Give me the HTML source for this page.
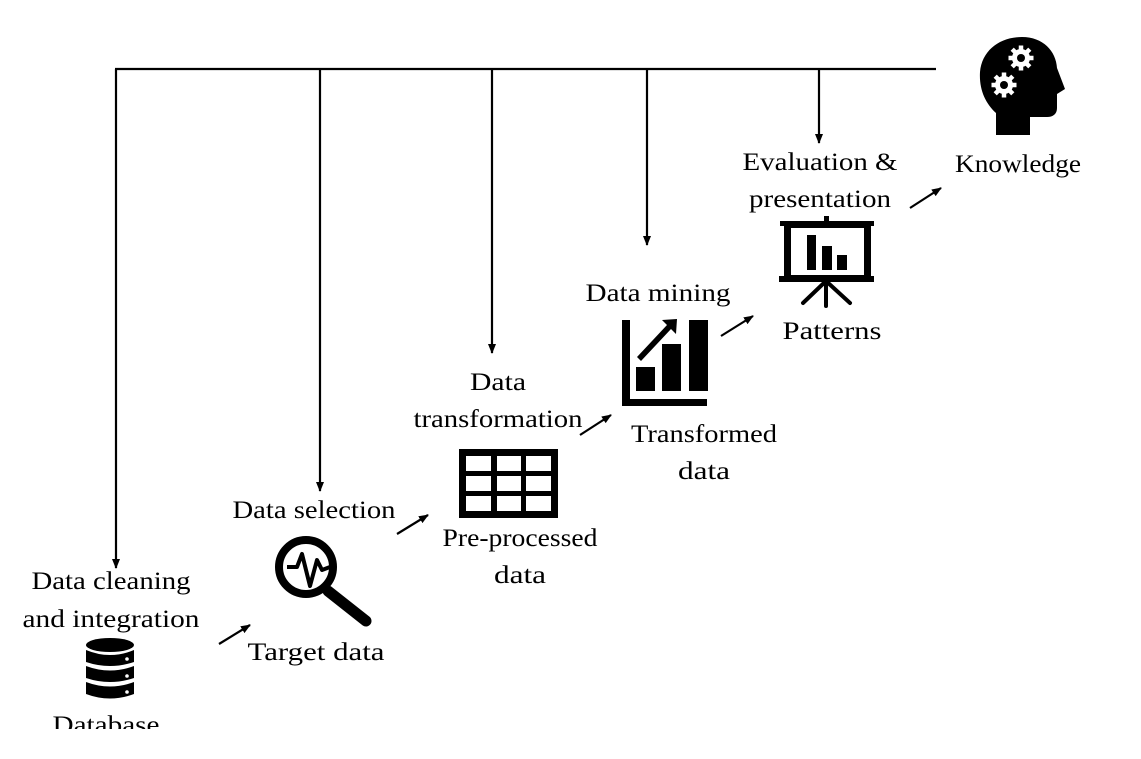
<!DOCTYPE html>
<html><head><meta charset="utf-8"><style>
html,body{margin:0;padding:0;background:#fff;}
svg{display:block;}
text{font-family:"Liberation Serif","DejaVu Serif","Times New Roman",serif;font-size:25px;fill:#000;text-anchor:middle;}
</style></head><body>
<svg width="1141" height="759" viewBox="0 0 1141 759" xmlns="http://www.w3.org/2000/svg" font-family="Liberation Serif, DejaVu Serif, serif">
<defs>
<marker id="ah" markerWidth="10" markerHeight="8" refX="9" refY="4" orient="auto" markerUnits="userSpaceOnUse">
<path d="M0,0 L10,4 L0,8 Z" fill="#000"/>
</marker>
<g id="gear">
<circle r="9" fill="#fff"/>
<g stroke="#fff" stroke-width="4.5">
<line x1="0" y1="-12.5" x2="0" y2="12.5"/>
<line x1="-12.5" y1="0" x2="12.5" y2="0"/>
<line x1="-8.8" y1="-8.8" x2="8.8" y2="8.8"/>
<line x1="-8.8" y1="8.8" x2="8.8" y2="-8.8"/>
</g>
<circle r="4" fill="#000"/>
</g>
</defs>
<g stroke="#000" stroke-width="2.2" fill="none">
<line x1="115" y1="69" x2="936" y2="69"/>
<line x1="116" y1="69" x2="116" y2="568" marker-end="url(#ah)"/>
<line x1="320" y1="69" x2="320" y2="491" marker-end="url(#ah)"/>
<line x1="492" y1="69" x2="492" y2="353" marker-end="url(#ah)"/>
<line x1="647" y1="69" x2="647" y2="245" marker-end="url(#ah)"/>
<line x1="819" y1="69" x2="819" y2="143" marker-end="url(#ah)"/>
<line x1="219" y1="644" x2="250" y2="625" marker-end="url(#ah)"/>
<line x1="397" y1="534" x2="428" y2="515" marker-end="url(#ah)"/>
<line x1="580" y1="435" x2="611" y2="415" marker-end="url(#ah)"/>
<line x1="721" y1="336" x2="753" y2="316" marker-end="url(#ah)"/>
<line x1="910" y1="208" x2="941" y2="188" marker-end="url(#ah)"/>
</g>

<text x="111" y="589" textLength="159" lengthAdjust="spacingAndGlyphs">Data cleaning</text>
<text x="111" y="627" textLength="177" lengthAdjust="spacingAndGlyphs">and integration</text>
<text x="106" y="733" textLength="107" lengthAdjust="spacingAndGlyphs">Database</text>
<rect x="0" y="729" width="300" height="30" fill="#fff"/>
<!-- database -->
<g fill="#000">
<ellipse cx="110" cy="645" rx="24" ry="7"/>
<path d="M86,650 Q110,660 134,650 L134,662 Q110,670 86,662 Z"/>
<path d="M86,666 Q110,675 134,666 L134,678 Q110,686 86,678 Z"/>
<path d="M86,682 Q110,691 134,682 L134,694 Q110,703 86,694 Z"/>
</g>
<g fill="#fff"><circle cx="127" cy="659" r="1.8"/><circle cx="127" cy="676" r="1.8"/><circle cx="127" cy="692" r="1.8"/></g>

<text x="314" y="518" textLength="163" lengthAdjust="spacingAndGlyphs">Data selection</text>
<text x="316" y="660" textLength="137" lengthAdjust="spacingAndGlyphs">Target data</text>
<!-- magnifier -->
<circle cx="306" cy="567" r="27" fill="none" stroke="#000" stroke-width="8"/>
<line x1="328" y1="591" x2="366" y2="621" stroke="#000" stroke-width="11" stroke-linecap="round"/>
<polyline points="287,567 297,567 302,554 310,586 317,560 322,570 330,567" fill="none" stroke="#000" stroke-width="4" stroke-linejoin="round"/>

<text x="498" y="390" textLength="56" lengthAdjust="spacingAndGlyphs">Data</text>
<text x="498" y="427" textLength="169" lengthAdjust="spacingAndGlyphs">transformation</text>
<text x="520" y="546" textLength="155" lengthAdjust="spacingAndGlyphs">Pre-processed</text>
<text x="520" y="583" textLength="52" lengthAdjust="spacingAndGlyphs">data</text>
<!-- table -->
<rect x="459" y="449" width="99" height="69" fill="#000"/>
<g fill="#fff">
<rect x="466" y="456" width="25" height="15"/><rect x="497" y="456" width="24" height="15"/><rect x="526" y="456" width="25" height="15"/>
<rect x="466" y="476" width="25" height="15"/><rect x="497" y="476" width="24" height="15"/><rect x="526" y="476" width="25" height="15"/>
<rect x="466" y="496" width="25" height="15"/><rect x="497" y="496" width="24" height="15"/><rect x="526" y="496" width="25" height="15"/>
</g>

<text x="658" y="301" textLength="145" lengthAdjust="spacingAndGlyphs">Data mining</text>
<text x="704" y="442" textLength="146" lengthAdjust="spacingAndGlyphs">Transformed</text>
<text x="704" y="479" textLength="52" lengthAdjust="spacingAndGlyphs">data</text>
<!-- chart -->
<g fill="#000">
<rect x="622" y="320" width="8" height="86"/>
<rect x="622" y="399" width="85" height="7"/>
<rect x="636" y="367" width="19" height="24"/>
<rect x="662" y="344" width="19" height="47"/>
<rect x="689" y="320" width="19" height="71"/>
<path d="M677,319 L676,334 L671,329 L641,361 L637,357 L667,325 L662,320 Z"/>
</g>

<text x="820" y="170" textLength="155" lengthAdjust="spacingAndGlyphs">Evaluation &amp;</text>
<text x="820" y="207" textLength="142" lengthAdjust="spacingAndGlyphs">presentation</text>
<text x="832" y="339" textLength="99" lengthAdjust="spacingAndGlyphs">Patterns</text>
<!-- presentation -->
<g fill="#000">
<rect x="780" y="221" width="94" height="5"/>
<rect x="824" y="216" width="5" height="6"/>
<rect x="784" y="221" width="87" height="61"/>
<rect x="779" y="276" width="95" height="6"/>
</g>
<rect x="791" y="228" width="73" height="47" fill="#fff"/>
<g fill="#000">
<rect x="807" y="235" width="9" height="35"/>
<rect x="822" y="246" width="10" height="24"/>
<rect x="837" y="255" width="10" height="15"/>
</g>
<g stroke="#000" stroke-width="4" stroke-linecap="round">
<line x1="826" y1="280" x2="826" y2="306"/>
<line x1="826" y1="281" x2="803" y2="303"/>
<line x1="826" y1="281" x2="850" y2="303"/>
</g>

<text x="1018" y="172" textLength="126" lengthAdjust="spacingAndGlyphs">Knowledge</text>
<!-- head -->
<path d="M996,135 L996,113 C985,103 979,89 980,72 C982,50 1000,37 1022,37 C1043,37 1056,51 1057,68 L1065,89 L1057,94 L1057,108 C1057,114 1053,117 1047,117 L1030,117 L1030,135 Z" fill="#000"/>
<use href="#gear" x="1021" y="58"/>
<use href="#gear" x="1004" y="85"/>
</svg>
</body></html>
